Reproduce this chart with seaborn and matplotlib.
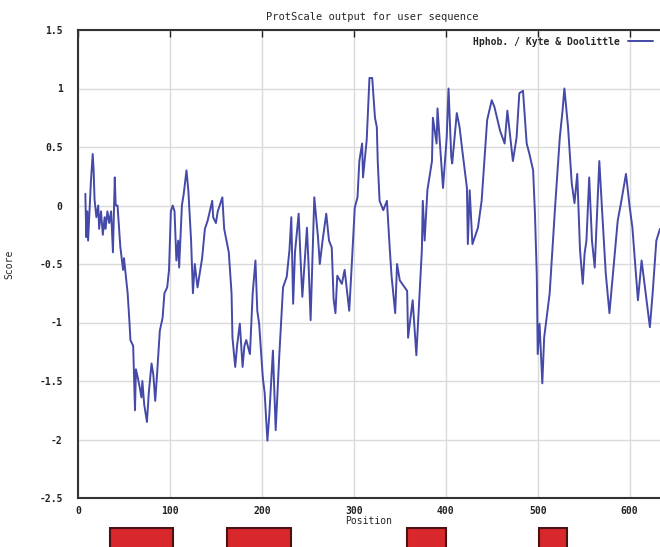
import matplotlib
matplotlib.use("Agg")
import matplotlib.pyplot as plt
import seaborn as sns
import numpy as np

# ---- data ----
positions = [8, 9, 10, 11, 14, 16, 17, 18, 20, 22, 23, 25, 27, 29, 30, 32, 34, 36, 38, 40,
             41, 43, 46, 49, 50, 52, 54, 56, 57, 60, 62, 63, 65, 67, 69, 70, 72, 75, 77, 80,
             82, 84, 86, 89, 92, 94, 97, 99, 101, 103, 105, 107, 109, 110, 113, 115, 118, 120, 123, 125,
             127, 130, 132, 135, 138, 141, 146, 147, 150, 152, 157, 159, 164, 167, 168, 171, 173, 176, 179, 181,
             183, 187, 190, 193, 195, 197, 201, 203, 206, 208, 212, 215, 217, 219, 223, 227, 230, 232, 234, 236,
             240, 242, 244, 249, 251, 253, 257, 259, 261, 263, 266, 270, 273, 276, 278, 280, 282, 287, 290, 295,
             298, 301, 304, 306, 309, 310, 314, 317, 320, 323, 325, 326, 328, 332, 336, 339, 341, 345, 347, 350,
             358, 359, 364, 368, 372, 374, 375, 377, 380, 385, 386, 390, 391, 397, 401, 403, 406, 407, 412, 415,
             418, 423, 424, 426, 429, 435, 439, 442, 445, 450, 453, 459, 464, 467, 473, 477, 480, 484, 488, 491,
             495, 497, 499, 500, 502, 505, 507, 513, 516, 519, 524, 527, 529, 533, 537, 540, 543, 546, 549, 551,
             553, 556, 559, 562, 567, 570, 574, 578, 584, 587, 591, 596, 600, 603, 609, 613, 622, 625, 629, 633]
scores = [0.10, -0.27, -0.05, -0.30, 0.20, 0.44, 0.30, 0.05, -0.10, 0.00, -0.20, -0.05, -0.25, -0.10, -0.20, -0.05, -0.15, -0.05, -0.40, 0.24,
          0.00, 0.00, -0.35, -0.55, -0.45, -0.60, -0.75, -1.00, -1.15, -1.20, -1.75, -1.40, -1.47, -1.55, -1.64, -1.50, -1.70, -1.85, -1.60, -1.35,
          -1.45, -1.67, -1.44, -1.07, -0.96, -0.75, -0.70, -0.55, -0.05, 0.00, -0.05, -0.47, -0.30, -0.53, 0.00, 0.10, 0.30, 0.13, -0.30, -0.75,
          -0.50, -0.70, -0.60, -0.45, -0.20, -0.13, 0.04, -0.10, -0.15, -0.05, 0.07, -0.20, -0.40, -0.75, -1.13, -1.38, -1.20, -1.01, -1.38, -1.20,
          -1.15, -1.27, -0.75, -0.47, -0.90, -1.01, -1.47, -1.60, -2.01, -1.80, -1.24, -1.92, -1.60, -1.27, -0.70, -0.61, -0.38, -0.10, -0.84, -0.40,
          -0.07, -0.45, -0.78, -0.19, -0.55, -0.98, 0.07, -0.10, -0.27, -0.50, -0.30, -0.07, -0.30, -0.36, -0.80, -0.92, -0.60, -0.67, -0.55, -0.90,
          -0.47, -0.02, 0.07, 0.38, 0.53, 0.24, 0.56, 1.09, 1.09, 0.75, 0.67, 0.38, 0.04, -0.04, 0.04, -0.36, -0.60, -0.92, -0.50, -0.64,
          -0.73, -1.13, -0.81, -1.28, -0.67, -0.38, 0.04, -0.30, 0.13, 0.38, 0.75, 0.53, 0.83, 0.15, 0.58, 1.00, 0.41, 0.36, 0.79, 0.67,
          0.47, 0.15, -0.33, 0.13, -0.33, -0.19, 0.04, 0.38, 0.73, 0.90, 0.84, 0.64, 0.53, 0.81, 0.38, 0.58, 0.96, 0.98, 0.53, 0.44,
          0.30, -0.07, -0.60, -1.27, -1.01, -1.52, -1.13, -0.75, -0.38, 0.00, 0.58, 0.81, 1.00, 0.67, 0.19, 0.02, 0.27, -0.38, -0.67, -0.41,
          -0.30, 0.24, -0.30, -0.53, 0.38, -0.04, -0.58, -0.92, -0.40, -0.13, 0.04, 0.27, -0.01, -0.19, -0.81, -0.47, -1.04, -0.75, -0.30, -0.20]

x_ticks = [0, 100, 200, 300, 400, 500, 600]
y_ticks = [1.5, 1, 0.5, 0, -0.5, -1, -1.5, -2, -2.5]
y_tick_labels = ["1.5", "1", "0.5", "0", "-0.5", "-1", "-1.5", "-2", "-2.5"]

region_starts = [35, 162, 358, 501]
region_ends = [103, 232, 400, 532]

title = "ProtScale output for user sequence"
legend_label = "Hphob. / Kyte & Doolittle"

# ---- style ----
sns.set_style("white")
plt.rcParams["font.family"] = ["DejaVu Sans Mono"]
plt.rcParams["font.weight"] = "bold"

fig = plt.figure(figsize=(6.6, 5.47), dpi=100)
W, H = 660, 547
ax = fig.add_axes([78 / W, 1 - 498 / H, (660 - 78) / W, (498 - 30) / H])

sns.lineplot(x=positions, y=scores, ax=ax, color="#4549a8", linewidth=1.4,
             estimator=None, label=legend_label)

ax.set_xlim(0, 633)
ax.set_ylim(-2.5, 1.5)
ax.set_xticks(x_ticks)
ax.set_xticklabels([str(t) for t in x_ticks])
ax.set_yticks(y_ticks)
ax.set_yticklabels(y_tick_labels)
ax.grid(True, color="#dadada", linewidth=1.0)
ax.tick_params(axis="both", direction="in", length=5, width=1, labelsize=7,
               colors="#222222", top=True, right=False)
ax.tick_params(axis="y", pad=11)
ax.tick_params(axis="x", pad=6)
for side in ["left", "bottom", "top"]:
    ax.spines[side].set_color("#333333")
    ax.spines[side].set_linewidth(1.5)
ax.spines["right"].set_visible(False)

ax.set_xlabel("Position", fontsize=7, labelpad=0)
ax.set_ylabel("Score", fontsize=7)
ax.yaxis.set_label_coords(-64 / 582, 0.5)
ax.set_title(title, fontsize=7.5, pad=7, x=0.505)

leg = ax.legend(loc="upper right", frameon=False, markerfirst=False, fontsize=7,
                handlelength=2.6, borderaxespad=0.3, bbox_to_anchor=(1.0, 1.0))

# ---- region boxes below the axis ----
ax2 = fig.add_axes([78 / W, 0, (660 - 78) / W, (547 - 527) / H])
ax2.set_xlim(0, 633)
ax2.set_ylim(-1, 1)
widths = [e - s for s, e in zip(region_starts, region_ends)]
ax2.barh([-1.6] * len(region_starts), widths, left=region_starts, height=2.5,
         color="#d8282c", edgecolor="#4a1212", linewidth=1.5, align="edge")
ax2.axis("off")

fig.savefig("out.png", dpi=100)
